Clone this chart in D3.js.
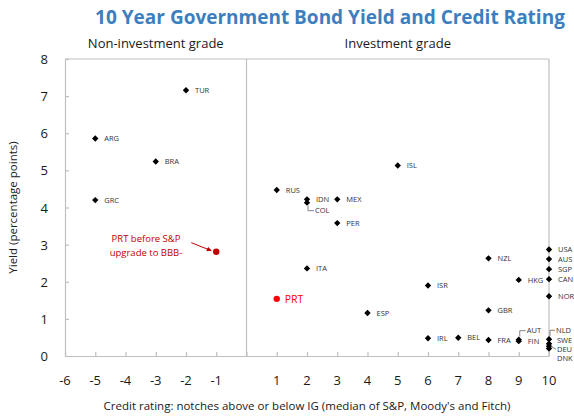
<!DOCTYPE html>
<html>
<head>
<meta charset="utf-8">
<script src="https://cdn.jsdelivr.net/npm/d3@7"></script>
<style>
  html, body { margin: 0; padding: 0; background: #fff; }
  svg { display: block; font-family: "Open Sans", "Noto Sans", sans-serif; }
</style>
</head>
<body>
<div id="chart"></div>
<script>
// ---------- data ----------
const countries = ["TUR","ARG","BRA","GRC","ISL","RUS","IDN","COL","MEX","PER","ITA","ESP","ISR","IRL",
                   "NZL","GBR","BEL","FRA","AUT","FIN","HKG","USA","AUS","SGP","CAN","NOR","NLD","SWE","DEU","DNK"];
const ratings   = [-2,-5,-3,-5,5,1,2,2,3,3,2,4,6,6,8,8,7,8,9,9,9,10,10,10,10,10,10,10,10,10];
const yields    = [7.16,5.86,5.24,4.20,5.13,4.47,4.22,4.13,4.22,3.58,2.36,1.16,1.90,0.48,
                   2.63,1.23,0.49,0.43,0.44,0.40,2.05,2.87,2.61,2.34,2.07,1.61,0.45,0.33,0.26,0.20];
const prtLabels  = ["PRT", "PRT before S&P upgrade to BBB-"];
const prtRatings = [1, -1];
const prtYields  = [1.54, 2.81];
const xTicks = [-6,-5,-4,-3,-2,-1,1,2,3,4,5,6,7,8,9,10];
const yTicks = [0,1,2,3,4,5,6,7,8];
const panelLabels = ["Non-investment grade", "Investment grade"];
const titleText = "10 Year Government Bond Yield and Credit Rating";
const xTitle = "Credit rating: notches above or below IG (median of S&P, Moody's and Fitch)";
const yTitle = "Yield (percentage points)";

// ---------- layout (label nudges in px, leaders) ----------
const labelNudge = {
  COL: {dx: 8, dy: 8, leader: "elbow"},
  AUT: {dx: 8, dy: -9, leader: "elbow"},
  NLD: {dx: 7, dy: -9, leader: "elbow"},
  SWE: {dx: 8, dy: -3},
  DEU: {dx: 8, dy: 3, leader: "line"},
  DNK: {dx: 8, dy: 10}
};

const W = 574, H = 419;
const svg = d3.select("#chart").append("svg").attr("width", W).attr("height", H);

const x = d3.scaleLinear().domain([-6, 10]).range([65, 549]);
const y = d3.scaleLinear().domain([0, 8]).range([356, 59]);
const axisColor = "#bfbfbf";

// title
svg.append("text").attr("x", 330).attr("y", 24).attr("text-anchor", "middle")
  .attr("font-size", 19).attr("font-weight", "bold").attr("fill", "#3d7ebf").text(titleText);

// panel headers
svg.append("text").attr("x", (x(-6) + x(0)) / 2).attr("y", 48).attr("text-anchor", "middle")
  .attr("font-size", 13).attr("fill", "#1a1a1a").text(panelLabels[0]);
svg.append("text").attr("x", (x(0) + x(10)) / 2).attr("y", 48).attr("text-anchor", "middle")
  .attr("font-size", 13).attr("fill", "#1a1a1a").text(panelLabels[1]);

// frame lines
const frame = svg.append("g").attr("stroke", axisColor).attr("stroke-width", 1.2).attr("fill", "none");
frame.append("line").attr("x1", x(-6)).attr("x2", x(10)).attr("y1", y(8)).attr("y2", y(8));
frame.append("line").attr("x1", x(0)).attr("x2", x(0)).attr("y1", y(8)).attr("y2", y(0));
frame.append("line").attr("x1", x(10)).attr("x2", x(10)).attr("y1", y(8)).attr("y2", y(0));

// x axis
const xAxis = d3.axisBottom(x).tickValues(d3.range(-6, 11)).tickSizeInner(-4).tickSizeOuter(0).tickFormat("");
const gx = svg.append("g").attr("transform", `translate(0,${y(0)})`).call(xAxis);
gx.selectAll("path, line").attr("stroke", axisColor).attr("stroke-width", 1.2);
svg.append("g").selectAll("text").data(xTicks).join("text")
  .attr("x", d => x(d)).attr("y", 385).attr("text-anchor", "middle")
  .attr("font-size", 13).attr("fill", "#1a1a1a").text(d => d);

// y axis
const yAxis = d3.axisLeft(y).tickValues(yTicks).tickSizeInner(-4).tickSizeOuter(0).tickFormat("");
const gy = svg.append("g").attr("transform", `translate(${x(-6)},0)`).call(yAxis);
gy.selectAll("path, line").attr("stroke", axisColor).attr("stroke-width", 1.2);
svg.append("g").selectAll("text").data(yTicks).join("text")
  .attr("x", 48).attr("y", d => y(d) + 5).attr("text-anchor", "end")
  .attr("font-size", 13).attr("fill", "#1a1a1a").text(d => d);

// axis titles
svg.append("text").attr("x", 307).attr("y", 410).attr("text-anchor", "middle")
  .attr("font-size", 11.5).attr("fill", "#1a1a1a").text(xTitle);
svg.append("text").attr("transform", `translate(17,${(y(0) + y(8)) / 2}) rotate(-90)`)
  .attr("text-anchor", "middle").attr("font-size", 11.5).attr("fill", "#1a1a1a").text(yTitle);

// data points
const data = countries.map((c, i) => ({c, r: ratings[i], v: yields[i]}));
const diamondPath = "M0,-3.2L3.2,0L0,3.2L-3.2,0Z";
const pts = svg.append("g");
pts.selectAll("path").data(data).join("path")
  .attr("d", diamondPath).attr("transform", d => `translate(${x(d.r)},${y(d.v)})`).attr("fill", "#000");

const lab = svg.append("g").attr("font-size", 7.5).attr("fill", "#333");
data.forEach(d => {
  const n = labelNudge[d.c] || {dx: 9, dy: 0};
  const px = x(d.r), py = y(d.v);
  const lx = px + n.dx, ly = py + n.dy;
  lab.append("text").attr("x", lx).attr("y", ly).attr("dy", "0.35em").text(d.c);
  if (n.leader === "elbow") {
    const startY = n.dy > 0 ? py + 3 : py - 3;
    svg.append("path").attr("d", `M${px + 1},${startY}V${ly}H${lx - 1}`)
      .attr("fill", "none").attr("stroke", "#666").attr("stroke-width", 0.8);
  } else if (n.leader === "line") {
    svg.append("path").attr("d", `M${px + 2},${py}L${lx - 1},${ly}`)
      .attr("fill", "none").attr("stroke", "#666").attr("stroke-width", 0.8);
  }
});

// Portugal
svg.append("circle").attr("cx", x(prtRatings[0])).attr("cy", y(prtYields[0])).attr("r", 3.2).attr("fill", "#ff0000");
svg.append("text").attr("x", x(prtRatings[0]) + 8).attr("y", y(prtYields[0])).attr("dy", "0.35em")
  .attr("font-size", 10.5).attr("fill", "#ff0000").text(prtLabels[0]);

svg.append("circle").attr("cx", x(prtRatings[1])).attr("cy", y(prtYields[1])).attr("r", 3.2).attr("fill", "#c00000");
const ann = svg.append("text").attr("font-size", 9.5).attr("fill", "#c00000").attr("text-anchor", "middle");
ann.append("tspan").attr("x", 146).attr("y", y(prtYields[1]) - 10).text("PRT before S&P");
ann.append("tspan").attr("x", 146).attr("y", y(prtYields[1]) + 4).text("upgrade to BBB-");
svg.append("defs").append("marker").attr("id", "ah").attr("viewBox", "0 0 10 10")
  .attr("refX", 9).attr("refY", 5).attr("markerWidth", 5).attr("markerHeight", 5).attr("orient", "auto")
  .append("path").attr("d", "M0,0L10,5L0,10z").attr("fill", "#c00000");
svg.append("line").attr("x1", x(prtRatings[1]) - 25).attr("y1", y(prtYields[1]) - 9)
  .attr("x2", x(prtRatings[1]) - 5).attr("y2", y(prtYields[1]) - 1)
  .attr("stroke", "#c00000").attr("stroke-width", 1).attr("marker-end", "url(#ah)");
</script>
</body>
</html>
